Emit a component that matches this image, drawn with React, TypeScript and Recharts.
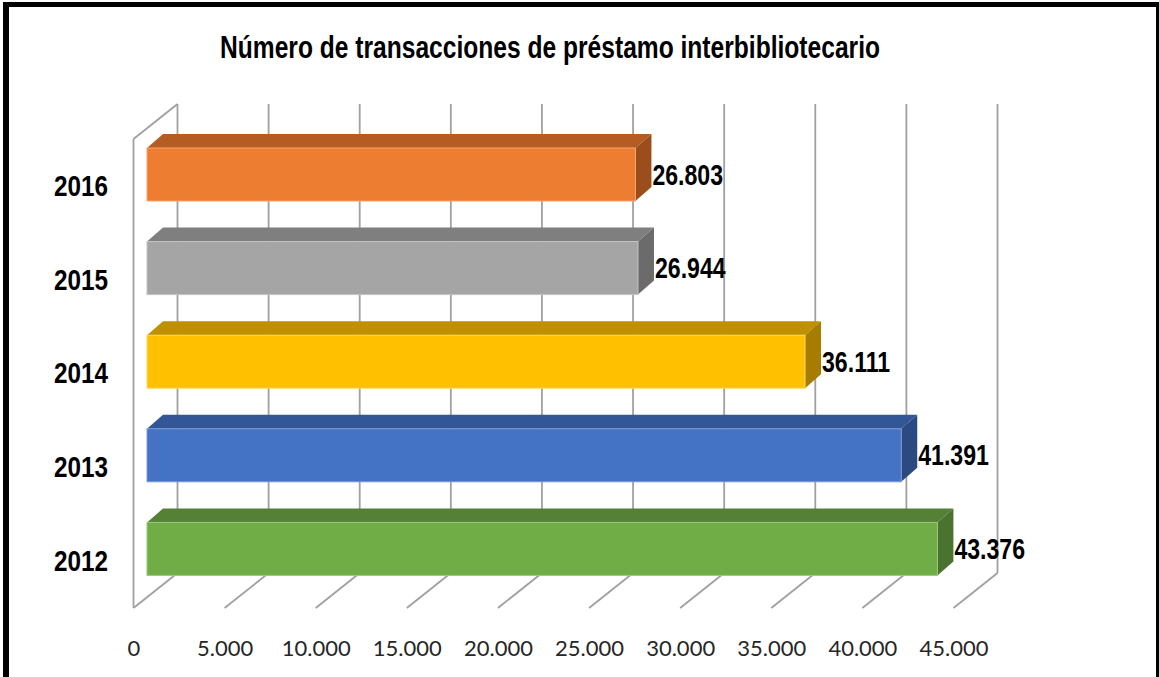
import { BarChart, Bar, XAxis, YAxis, CartesianGrid, LabelList } from 'recharts'

const CATEGORIES = ['2016', '2015', '2014', '2013', '2012']
const VALUES = [26803, 26944, 36111, 41391, 43376]
const X_TICKS = [0, 5000, 10000, 15000, 20000, 25000, 30000, 35000, 40000, 45000]

const FRONT = ['#ED7D31', '#A5A5A5', '#FFC000', '#4472C4', '#70AD47']
const TOP = ['#B45C22', '#7F7F7F', '#BF9000', '#335696', '#558137']
const SIDE = ['#9B4D1B', '#6B6B6B', '#A67D00', '#2C4A82', '#4A7330']
const EDGE = ['#F4A573', '#C4C4C4', '#FFD65C', '#7D9BD6', '#9BC87E']

const data = CATEGORIES.map((year, i) => ({ year, value: VALUES[i] }))

// depth of the 3d bars and of the chart box
const BAR_DX = 16
const BAR_DY = 14
const GRID = '#A0A0A0'

const fmt = (v: number) => String(v).replace(/\B(?=(\d{3})+(?!\d))/g, '.')

function Bar3D(props: any) {
  const { x, y, width, height, index } = props
  if (width == null || width <= 0) return null
  const r = x + width
  return (
    <g>
      <polygon
        points={`${x},${y} ${x + BAR_DX},${y - BAR_DY} ${r + BAR_DX},${y - BAR_DY} ${r},${y}`}
        fill={TOP[index]}
      />
      <polygon
        points={`${r},${y} ${r + BAR_DX},${y - BAR_DY} ${r + BAR_DX},${y + height - BAR_DY} ${r},${y + height}`}
        fill={SIDE[index]}
      />
      <rect x={x} y={y} width={width} height={height} fill={FRONT[index]} stroke={EDGE[index]} strokeWidth={1} />
    </g>
  )
}

// back wall line + floor line for each value tick
function GridLine(props: any) {
  const { x1, y1, y2, index } = props
  const bx = x1 + 30.5
  const fx = x1 - 13.5
  const top = y1 - 24
  const backFloor = y2 - 23
  const frontFloor = y2 + 12
  return (
    <g>
      <line x1={bx} y1={top} x2={bx} y2={backFloor} stroke={GRID} strokeWidth={1.8} />
      <line x1={bx} y1={backFloor} x2={fx} y2={frontFloor} stroke={GRID} strokeWidth={1.8} />
      {index === 0 && (
        <>
          <line x1={fx} y1={top + 35} x2={fx} y2={frontFloor} stroke={GRID} strokeWidth={1.8} />
          <line x1={fx} y1={top + 35} x2={bx} y2={top} stroke={GRID} strokeWidth={1.8} />
        </>
      )}
    </g>
  )
}

function XTick(props: any) {
  const { x, payload } = props
  return (
    <text x={x - 13} y={647} textAnchor="middle" dominantBaseline="central" fontFamily="Lato, 'Open Sans', sans-serif" fontSize={22} fill="#262626">
      {fmt(payload.value)}
    </text>
  )
}

function YTick(props: any) {
  const { y, payload } = props
  return (
    <text
      transform={`translate(81,${y + 11}) scale(0.81,1)`}
      textAnchor="middle"
      dominantBaseline="central"
      fontFamily="'Liberation Sans', Arial, sans-serif"
      fontWeight="bold"
      fontSize={30}
      fill="#000"
    >
      {payload.value}
    </text>
  )
}

function ValueLabel(props: any) {
  const { x, y, width, height, value } = props
  return (
    <text
      transform={`translate(${x + width + BAR_DX + 1},${y + height / 2}) scale(0.77,1)`}
      textAnchor="start"
      dominantBaseline="central"
      fontFamily="'Liberation Sans', Arial, sans-serif"
      fontWeight="bold"
      fontSize={30}
      fill="#000"
    >
      {fmt(value)}
    </text>
  )
}

export default function App() {
  return (
    <div style={{ position: 'absolute', left: 0, top: 0, width: 1159, height: 677, background: '#fff', overflow: 'hidden' }}>
      <div
        style={{
          position: 'absolute',
          left: 3,
          top: 2,
          width: 1156,
          height: 675,
          boxSizing: 'border-box',
          borderLeft: '6px solid #000',
          borderTop: '5px solid #000',
          borderRight: '3px solid #000',
        }}
      />
      <svg width={1159} height={677} style={{ position: 'absolute', left: 0, top: 0 }}>
        <text
          x={550}
          y={47}
          textAnchor="middle"
          dominantBaseline="central"
          fontFamily="'Liberation Sans', Arial, sans-serif"
          fontWeight="bold"
          fontSize={31}
          textLength={660}
          lengthAdjust="spacingAndGlyphs"
          fill="#000"
        >
          Número de transacciones de préstamo interbibliotecario
        </text>
      </svg>
      <div style={{ position: 'absolute', left: 0, top: 0 }}>
        <BarChart width={1159} height={677} data={data} layout="vertical" margin={{ top: 128, right: 192, bottom: 0, left: 87 }}>
          <CartesianGrid horizontal={false} vertical={GridLine} />
          <XAxis
            type="number"
            domain={[0, 45000]}
            ticks={X_TICKS}
            height={81}
            axisLine={false}
            tickLine={false}
            tick={XTick}
            interval={0}
          />
          <YAxis type="category" dataKey="year" width={60} axisLine={false} tickLine={false} tick={YTick} />
          <Bar dataKey="value" barSize={53} shape={Bar3D} isAnimationActive={false}>
            <LabelList dataKey="value" content={ValueLabel} />
          </Bar>
        </BarChart>
      </div>
    </div>
  )
}
